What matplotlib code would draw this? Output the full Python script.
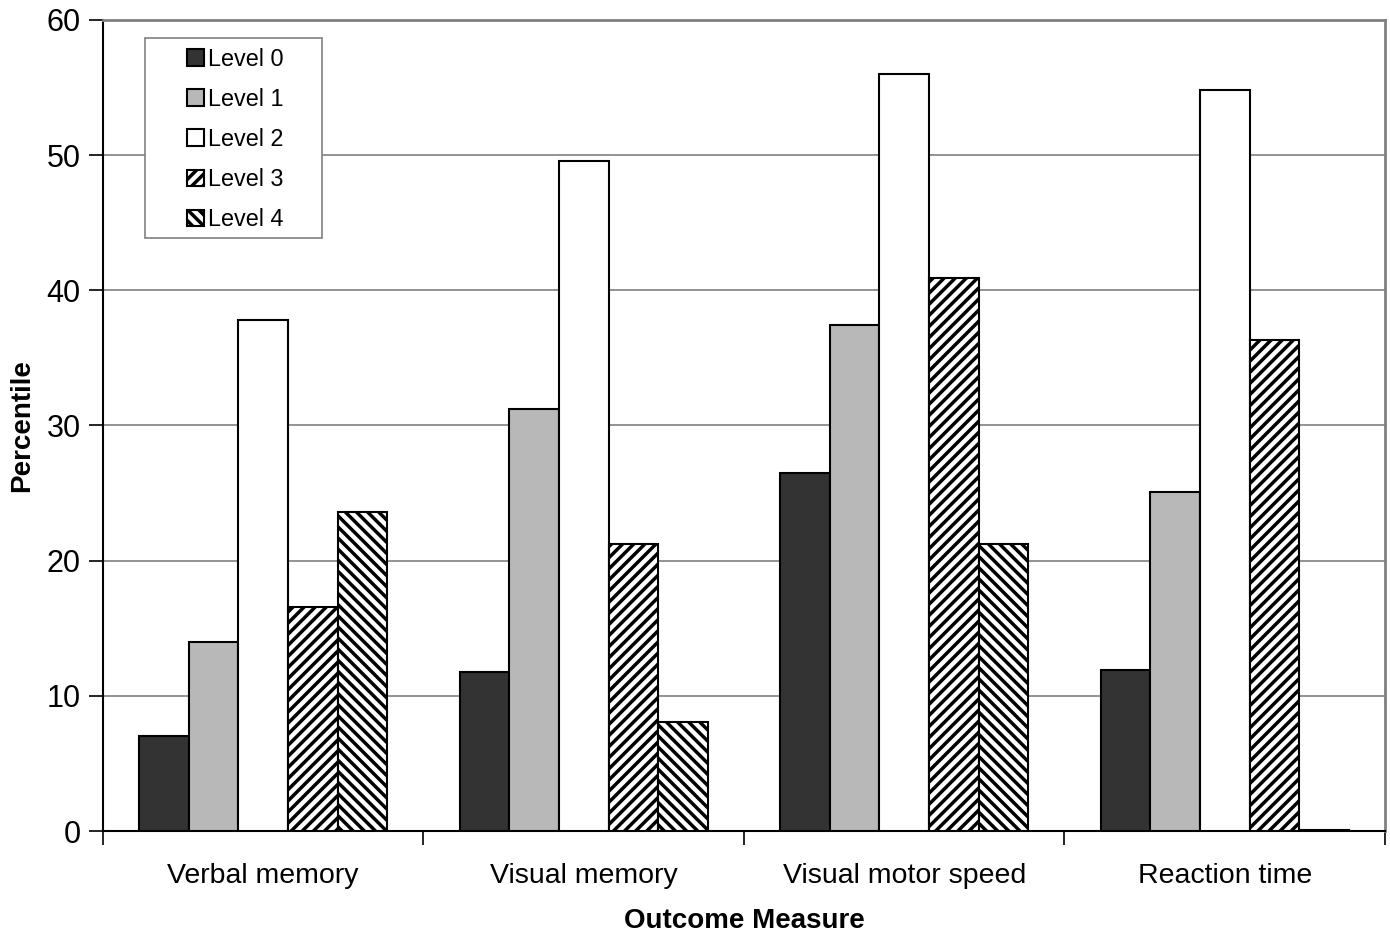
import matplotlib.pyplot as plt
from matplotlib.patches import Rectangle
import numpy as np

plt.rcParams['font.family'] = ['Liberation Sans', 'DejaVu Sans']
plt.rcParams['hatch.linewidth'] = 2.5

# Data
categories = ["Verbal memory", "Visual memory", "Visual motor speed", "Reaction time"]
levels = ["Level 0", "Level 1", "Level 2", "Level 3", "Level 4"]
level0 = [7.0, 11.8, 26.5, 11.9]
level1 = [14.0, 31.2, 37.4, 25.1]
level2 = [37.8, 49.6, 56.0, 54.8]
level3 = [16.6, 21.2, 40.9, 36.3]
level4 = [23.6, 8.1, 21.2, 0.1]
series = [level0, level1, level2, level3, level4]

face_colors = ["#333333", "#b8b8b8", "white", "white", "white"]
hatches = [None, None, None, "///", "\\\\\\"]

fig = plt.figure(figsize=(13.9, 9.33), dpi=100)
ax = fig.add_axes([0.0741, 0.1093, 0.9223, 0.8693])

x = np.arange(len(categories))
width = 0.155
for i, vals in enumerate(series):
    offset = (i - 2) * width
    ax.bar(x + offset, vals, width, color=face_colors[i], edgecolor="black",
           linewidth=1.5, hatch=hatches[i], label=levels[i], zorder=3)

ax.set_xlim(-0.5, len(categories) - 0.5)
ax.set_ylim(0, 60)
ax.set_yticks(range(0, 61, 10))
ax.yaxis.grid(True, color="#808080", linewidth=1.2, zorder=0)

# category labels at centres, tick marks at group boundaries
ax.set_xticks(x)
ax.set_xticklabels(categories, fontsize=20.5)
ax.tick_params(axis="x", length=0, pad=23)
ax.set_xticks(np.arange(-0.5, len(categories), 1.0), minor=True)
ax.tick_params(axis="x", which="minor", length=10, width=1.2, direction="out")
ax.tick_params(axis="y", labelsize=22, length=10, width=1.2, direction="out", pad=6)

for side in ["top", "right"]:
    ax.spines[side].set_color("#808080")
    ax.spines[side].set_linewidth(2)
ax.spines["left"].set_linewidth(1.5)
ax.spines["bottom"].set_linewidth(1.5)

ax.set_ylabel("Percentile", fontsize=20, fontweight="bold", labelpad=8)
ax.set_xlabel("Outcome Measure", fontsize=20, fontweight="bold", labelpad=14)

# legend without its own frame, plus a separate box like the original
leg = ax.legend(loc="upper left", bbox_to_anchor=(0.0655, 0.9655), borderaxespad=0,
                borderpad=0, frameon=False, fontsize=16.8,
                handlelength=0.73, handleheight=0.73, handletextpad=0.17,
                labelspacing=0.73)
leg.set_zorder(6)
ax.add_patch(Rectangle((0.0328, 0.731), 0.138, 0.2466, transform=ax.transAxes,
                       facecolor="white", edgecolor="#808080", linewidth=1.2,
                       zorder=5))

plt.savefig("out.png", dpi=100)
plt.close()
